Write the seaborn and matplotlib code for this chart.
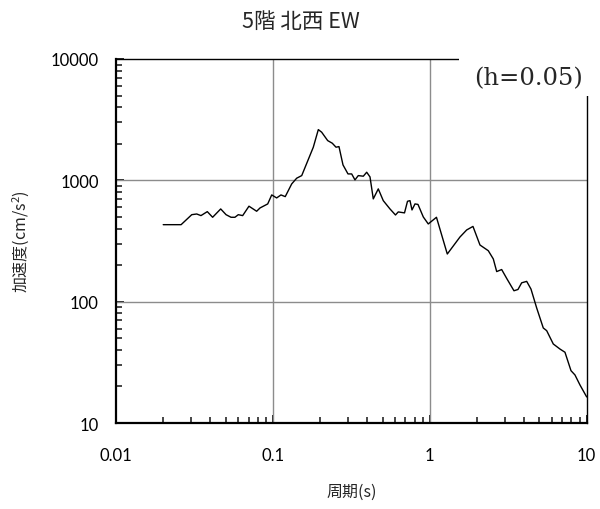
import matplotlib
matplotlib.use("Agg")
import matplotlib.pyplot as plt
import matplotlib.ticker as mticker
from matplotlib.patches import Rectangle
import numpy as np
import pandas as pd
import seaborn as sns

# Acceleration response spectrum, 5F north-west, EW component (damping h=0.05)
period = [0.020, 0.026, 0.0304, 0.0327, 0.0348, 0.0382, 0.0413, 0.0465, 0.0503, 0.0541,
          0.0573, 0.0602, 0.0642, 0.0704, 0.0788, 0.0828, 0.0927, 0.0983, 0.1057, 0.1126,
          0.1199, 0.1318, 0.1418, 0.1527, 0.181, 0.1948, 0.2046, 0.2235, 0.2391, 0.2525,
          0.2638, 0.2798, 0.3011, 0.3178, 0.3336, 0.3502, 0.377, 0.3962, 0.4159, 0.4364,
          0.4696, 0.5053, 0.5576, 0.6045, 0.6297, 0.6901, 0.7211, 0.748, 0.7702, 0.8049,
          0.841, 0.9092, 0.978, 1.103, 1.293, 1.557, 1.719, 1.885, 2.089, 2.36,
          2.54, 2.67, 2.872, 3.105, 3.44, 3.648, 3.852, 4.146, 4.416, 4.8,
          5.289, 5.559, 6.125, 6.757, 7.271, 7.943, 8.42, 9.06, 10.0]
accel = [431, 431, 521, 528, 512, 552, 496, 581, 521, 496,
         496, 521, 512, 612, 556, 592, 639, 758, 716, 758,
         734, 934, 1041, 1094, 1875, 2618, 2492, 2125, 2022, 1875,
         1896, 1340, 1129, 1129, 1008, 1094, 1081, 1166, 1067, 703,
         850, 680, 581, 518, 549, 539, 672, 680, 570, 639,
         633, 499, 437, 496, 247, 341, 390, 417, 293, 263,
         225, 177, 184, 154, 123, 126, 143, 147, 127, 88.8,
         60.7, 57.7, 44.8, 40.7, 38.3, 27.0, 24.9, 20.6, 16.4]

x_ticks = [0.01, 0.1, 1, 10]
x_tick_labels = ["0.01", "0.1", "1", "10"]
y_ticks = [10, 100, 1000, 10000]
y_tick_labels = ["10", "100", "1000", "10000"]

title = "5階 北西 EW"
x_label = "周期(s)"
y_label = "加速度(cm/s$^2$)"
damping_note = "(h=0.05)"

sns.set_style("white")
plt.rcParams["font.family"] = ["Noto Sans CJK JP", "DejaVu Sans"]
plt.rcParams["mathtext.fontset"] = "custom"
plt.rcParams["mathtext.rm"] = "Noto Sans CJK JP"

df = pd.DataFrame({"period": period, "accel": accel})

fig = plt.figure(figsize=(6.0, 5.1), dpi=100)
ax = fig.add_axes([0.1933, 0.1686, 0.7845, 0.7138])

ax.set_xscale("log")
ax.set_yscale("log")
ax.set_xlim(0.01, 10)
ax.set_ylim(10, 10000)

# Grid only at the decades
for v in [0.1, 1]:
    ax.axvline(v, color="#8c8c8c", lw=1.0, zorder=1)
for v in [100, 1000]:
    ax.axhline(v, color="#8c8c8c", lw=1.0, zorder=1)

sns.lineplot(data=df, x="period", y="accel", sort=False, color="black",
             lw=1.0, ax=ax, zorder=3, estimator=None)

ax.xaxis.set_major_locator(mticker.FixedLocator(x_ticks))
ax.xaxis.set_major_formatter(mticker.FixedFormatter(x_tick_labels))
ax.yaxis.set_major_locator(mticker.FixedLocator(y_ticks))
ax.yaxis.set_major_formatter(mticker.FixedFormatter(y_tick_labels))
ax.xaxis.set_minor_locator(mticker.LogLocator(base=10, subs=np.arange(2, 10)))
ax.yaxis.set_minor_locator(mticker.LogLocator(base=10, subs=np.arange(2, 10)))
ax.xaxis.set_minor_formatter(mticker.NullFormatter())
ax.yaxis.set_minor_formatter(mticker.NullFormatter())

ax.tick_params(axis="both", which="major", direction="in", length=6, width=1.2,
               labelsize=12, colors="black")
ax.tick_params(axis="x", which="major", pad=17)
ax.tick_params(axis="y", which="major", pad=12.5)
ax.tick_params(axis="both", which="minor", direction="in", length=4.5, width=1.2)
ax.tick_params(axis="x", which="both", bottom=True, top=False)
ax.tick_params(axis="y", which="both", left=True, right=False)
for lbl in ax.get_xticklabels() + ax.get_yticklabels():
    lbl.set_family(["Lato", "DejaVu Sans"])

for side in ["left", "bottom"]:
    ax.spines[side].set_linewidth(1.6)
    ax.spines[side].set_color("black")
for side in ["top", "right"]:
    ax.spines[side].set_linewidth(1.0)
    ax.spines[side].set_color("black")
    ax.spines[side].set_visible(True)

ax.set_xlabel(x_label, fontsize=11.5)
ax.set_ylabel(y_label, fontsize=11.5)
ax.xaxis.label.set_va("center")
ax.yaxis.label.set_va("center")
ax.xaxis.set_label_coords(0.5, (424 - 492) / 364)
ax.yaxis.set_label_coords((21 - 116) / 470.7, 0.5)
fig.text(0.502, 1 - 22 / 510, title, ha="center", va="center", fontsize=15.5)

# White label box over the upper-right corner of the frame
ax.add_patch(Rectangle((0.7287, 0.898), 0.30, 0.12, transform=ax.transAxes,
                       facecolor="white", edgecolor="none", clip_on=False, zorder=5))
ax.text(0.991, 0.948, damping_note, transform=ax.transAxes, ha="right", va="center",
        fontsize=17.5, family="DejaVu Serif", zorder=6)

fig.savefig("out.png", dpi=100, facecolor="white")
